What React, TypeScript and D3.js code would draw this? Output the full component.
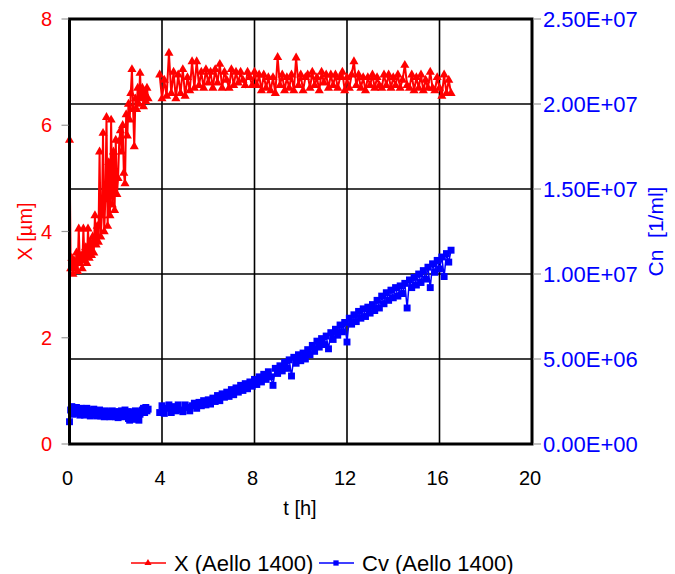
import React from "react";
import * as d3 from "d3";

const tHours = [
  0.0, 0.05, 0.1, 0.15, 0.2, 0.25, 0.3, 0.35, 0.4, 0.45, 0.5, 0.55, 0.6, 0.65, 0.7, 0.75, 0.8, 0.85, 0.9, 0.95,
  1.0, 1.05, 1.1, 1.15, 1.2, 1.25, 1.3, 1.35, 1.4, 1.45, 1.5, 1.55, 1.6, 1.65, 1.7, 1.75, 1.8, 1.85, 1.9, 1.95,
  2.0, 2.05, 2.1, 2.15, 2.2, 2.25, 2.3, 2.35, 2.4, 2.45, 2.5, 2.55, 2.6, 2.65, 2.7, 2.75, 2.8, 2.85, 2.9, 2.95,
  3.0, 3.05, 3.1, 3.15, 3.2, 3.25, 3.3, 3.35, 3.4,
  3.9, 4.0, 4.1, 4.2, 4.3, 4.4, 4.5, 4.6, 4.7, 4.8, 4.9, 5.0, 5.1, 5.2, 5.3, 5.4, 5.5, 5.6, 5.7, 5.8, 5.9,
  6.0, 6.1, 6.2, 6.3, 6.4, 6.5, 6.6, 6.7, 6.8, 6.9, 7.0, 7.1, 7.2, 7.3, 7.4, 7.5, 7.6, 7.7, 7.8, 7.9,
  8.0, 8.1, 8.2, 8.3, 8.4, 8.5, 8.6, 8.7, 8.8, 8.9, 9.0, 9.1, 9.2, 9.3, 9.4, 9.5, 9.6, 9.7, 9.8, 9.9,
  10.0, 10.1, 10.2, 10.3, 10.4, 10.5, 10.6, 10.7, 10.8, 10.9, 11.0, 11.1, 11.2, 11.3, 11.4, 11.5, 11.6, 11.7, 11.8, 11.9,
  12.0, 12.1, 12.2, 12.3, 12.4, 12.5, 12.6, 12.7, 12.8, 12.9, 13.0, 13.1, 13.2, 13.3, 13.4, 13.5, 13.6, 13.7, 13.8, 13.9,
  14.0, 14.1, 14.2, 14.3, 14.4, 14.5, 14.6, 14.7, 14.8, 14.9, 15.0, 15.1, 15.2, 15.3, 15.4, 15.5, 15.6, 15.7, 15.8, 15.9,
  16.0, 16.1, 16.2, 16.3, 16.4, 16.5,
];

// X (Aello 1400) [µm]
const xMicron = [
  5.72, 3.3, 3.5, 3.2, 3.45, 3.3, 3.6, 3.25, 4.05, 3.4, 3.55, 3.3, 4.05, 3.45, 3.7, 3.4, 4.05, 3.5, 3.8, 3.55,
  3.9, 3.6, 4.3, 3.75, 4.1, 3.8, 5.5, 3.9, 4.3, 5.85, 4.0, 4.6, 6.15, 4.1, 5.3, 4.3, 6.1, 4.5, 5.5, 4.4,
  5.72, 4.7, 5.0, 5.7, 5.9, 5.5, 6.0, 5.1, 4.9, 6.2, 5.8, 6.4, 6.1, 6.6, 7.05, 6.3, 5.6, 6.5, 6.3, 6.7,
  6.4, 6.98, 6.5, 6.7, 6.35, 6.6, 6.45, 6.7, 6.5,
  6.95, 6.5, 6.85, 6.55, 7.36, 6.6, 7.0, 6.5, 6.95, 6.6, 7.05, 6.55, 6.9, 6.65, 7.2, 6.7, 7.2, 6.75, 7.0, 6.7, 7.05,
  6.8, 7.0, 6.7, 7.05, 6.8, 7.15, 6.7, 7.0, 6.85, 6.7, 7.05, 6.75, 7.0, 6.8, 7.0, 6.85, 6.75, 7.0, 6.9, 6.75,
  7.0, 6.75, 6.95, 6.65, 6.95, 6.7, 6.9, 6.65, 6.9, 6.6, 7.28, 6.75, 6.95, 6.65, 6.9, 6.7, 6.95, 6.65, 7.27, 6.75,
  6.95, 6.65, 6.9, 6.95, 6.7, 7.0, 6.75, 6.9, 6.65, 7.0, 6.8, 6.95, 6.7, 6.95, 6.75, 6.95, 6.7, 6.9, 7.0, 6.65,
  6.9, 6.7, 6.95, 7.2, 6.75, 6.95, 6.7, 6.9, 6.65, 6.9, 6.75, 6.95, 6.7, 6.9, 6.75, 6.7, 6.95, 6.75, 6.95, 6.7,
  6.9, 6.75, 6.95, 6.7, 6.85, 7.13, 6.75, 6.7, 6.95, 6.65, 6.9, 6.7, 6.95, 6.65, 6.85, 6.7, 7.0, 6.7, 6.65, 6.9,
  6.7, 6.55, 6.95, 6.6, 6.85, 6.6,
];

// Cv (Aello 1400) [million 1/ml]
const cvMillion = [
  1.31, 2.0, 2.2, 1.75, 2.05, 1.85, 2.15, 1.8, 2.0, 1.7, 2.1, 1.8, 2.05, 1.7, 1.95, 2.1, 1.75, 2.0, 1.65, 1.95,
  1.8, 2.05, 1.7, 1.95, 1.65, 1.9, 2.0, 1.65, 1.9, 1.75, 1.6, 1.95, 1.75, 1.65, 1.9, 1.6, 1.85, 1.95, 1.65, 1.9,
  1.6, 1.85, 1.55, 1.9, 1.7, 1.95, 1.6, 1.85, 2.0, 1.65, 1.9, 1.5, 1.4, 1.75, 1.9, 1.45, 1.7, 1.95, 1.75, 1.5,
  1.4, 1.75, 1.9, 2.0, 2.1, 1.85, 2.15, 1.95, 2.05,
  1.85, 2.25, 1.8, 2.1, 2.3, 1.85, 2.2, 1.95, 2.3, 2.0, 1.9, 2.3, 2.15, 1.95, 2.25, 2.4, 2.1, 2.45, 2.25, 2.55, 2.3,
  2.6, 2.35, 2.7, 2.5, 2.85, 2.55, 2.95, 2.75, 3.05, 2.8, 3.2, 2.9, 3.3, 3.05, 3.45, 3.15, 3.55, 3.25, 3.65, 3.4,
  3.8, 3.5, 3.95, 3.65, 4.1, 3.8, 4.25, 3.95, 3.45, 4.45, 4.15, 4.6, 4.3, 4.8, 4.45, 4.95, 4.0, 5.1, 4.75, 5.25,
  4.9, 5.35, 5.0, 5.55, 5.25, 5.8, 5.45, 6.05, 5.7, 6.2, 5.85, 6.35, 5.6, 6.55, 6.15, 6.75, 6.4, 7.0, 6.6, 7.15,
  6.0, 7.4, 7.05, 7.6, 7.2, 7.8, 7.4, 7.95, 7.5, 8.05, 7.7, 8.2, 7.85, 8.45, 8.0, 8.7, 8.25, 8.9, 8.45, 9.05,
  8.6, 9.2, 8.7, 9.3, 8.85, 9.45, 8.0, 9.65, 9.2, 9.8, 9.35, 10.0, 9.5, 10.2, 9.7, 10.4, 9.2, 10.6, 10.1, 10.8,
  10.3, 11.0, 9.85, 11.2, 10.7, 11.4,
];

const xTicks = [0, 4, 8, 12, 16, 20];
const leftTicks = [0, 2, 4, 6, 8];
const rightTicks = [0, 5, 10, 15, 20, 25];
const rightTickLabels = ["0.00E+00", "5.00E+06", "1.00E+07", "1.50E+07", "2.00E+07", "2.50E+07"];

const W = 675;
const H = 574;
const FONT = "'Liberation Sans', Arial, Helvetica, sans-serif";
const RED = "#ff0000";
const BLUE = "#0000ff";

export default function App() {
  const left = 69.5, right = 532, top = 19, bottom = 444;
  const x = d3.scaleLinear().domain([0, 20]).range([left, right]);
  const yL = d3.scaleLinear().domain([0, 8]).range([bottom, top]);
  const yR = d3.scaleLinear().domain([0, 25]).range([bottom, top]);

  const pts = tHours.map((t, i) => ({ t, xv: xMicron[i], cv: cvMillion[i] }));
  const segments: typeof pts[] = [];
  pts.forEach((p, i) => {
    if (i === 0 || p.t - pts[i - 1].t > 0.3) segments.push([]);
    segments[segments.length - 1].push(p);
  });

  const lineX = d3.line<any>().x((d) => x(d.t)).y((d) => yL(d.xv));
  const lineC = d3.line<any>().x((d) => x(d.t)).y((d) => yR(d.cv));
  const tri = d3.symbol(d3.symbolTriangle, 36)()!;
  const sq = d3.symbol(d3.symbolSquare, 48)()!;
  const triLeg = d3.symbol(d3.symbolTriangle, 22)()!;
  const sqLeg = d3.symbol(d3.symbolSquare, 28)()!;

  return (
    <div style={{ position: "absolute", left: 0, top: 0 }}>
      <svg width={W} height={H} style={{ display: "block", background: "#fff" }} fontFamily={FONT}>
        {xTicks.filter((t) => t > 0 && t < 20).map((t) => (
          <line key={"gx" + t} x1={x(t)} x2={x(t)} y1={top} y2={bottom} stroke="#000" strokeWidth={1.6} />
        ))}
        {rightTicks.filter((t) => t > 0 && t < 25).map((t) => (
          <line key={"gy" + t} x1={left} x2={right} y1={yR(t)} y2={yR(t)} stroke="#000" strokeWidth={1.6} />
        ))}

        {segments.map((s, i) => (
          <path key={"lx" + i} d={lineX(s)!} fill="none" stroke={RED} strokeWidth={2} />
        ))}
        {pts.map((p, i) => (
          <path key={"mx" + i} d={tri} transform={`translate(${x(p.t)},${yL(p.xv)})`} fill={RED} />
        ))}

        {segments.map((s, i) => (
          <path key={"lc" + i} d={lineC(s)!} fill="none" stroke={BLUE} strokeWidth={1.5} />
        ))}
        {pts.map((p, i) => (
          <path key={"mc" + i} d={sq} transform={`translate(${x(p.t)},${yR(p.cv)})`} fill={BLUE} />
        ))}

        <rect x={left} y={top} width={right - left} height={bottom - top} fill="none" stroke="#000" strokeWidth={3} />

        {leftTicks.map((v) => (
          <g key={"lt" + v}>
            <line x1={left - 8} x2={left - 1} y1={yL(v)} y2={yL(v)} stroke="#999" strokeWidth={1.2} />
            <text x={52} y={yL(v)} textAnchor="end" dominantBaseline="central" fill={RED} fontSize={20}>
              {v}
            </text>
          </g>
        ))}
        <text
          transform={`translate(25,${(top + bottom) / 2}) rotate(-90)`}
          textAnchor="middle"
          dominantBaseline="central"
          fill={RED}
          fontSize={20}
        >
          X [µm]
        </text>

        {rightTicks.map((v, i) => (
          <g key={"rt" + v}>
            <line x1={right + 1} x2={right + 9} y1={yR(v)} y2={yR(v)} stroke="#999" strokeWidth={1.2} />
            <text x={543} y={yR(v)} textAnchor="start" dominantBaseline="central" fill={BLUE} fontSize={22}>
              {rightTickLabels[i]}
            </text>
          </g>
        ))}
        <text
          transform={`translate(655,${(top + bottom) / 2}) rotate(-90)`}
          textAnchor="middle"
          dominantBaseline="central"
          fill={BLUE}
          fontSize={21}
          style={{ whiteSpace: "pre" }}
        >
          {"Cn  [1/ml]"}
        </text>

        {xTicks.map((t) => (
          <text key={"bt" + t} x={x(t) - 2} y={478} textAnchor="middle" dominantBaseline="central" fill="#000" fontSize={20}>
            {t}
          </text>
        ))}
        <text x={300} y={508} textAnchor="middle" dominantBaseline="central" fill="#000" fontSize={20}>
          t [h]
        </text>

        <line x1={131} x2={166} y1={563} y2={563} stroke={RED} strokeWidth={1.5} />
        <path d={triLeg} transform="translate(148,563)" fill={RED} />
        <text x={174} y={563} dominantBaseline="central" fill="#000" fontSize={22}>
          X (Aello 1400)
        </text>
        <line x1={319} x2={354} y1={563} y2={563} stroke={BLUE} strokeWidth={1.5} />
        <path d={sqLeg} transform="translate(336,563)" fill={BLUE} />
        <text x={362} y={563} dominantBaseline="central" fill="#000" fontSize={22}>
          Cv (Aello 1400)
        </text>
      </svg>
    </div>
  );
}
